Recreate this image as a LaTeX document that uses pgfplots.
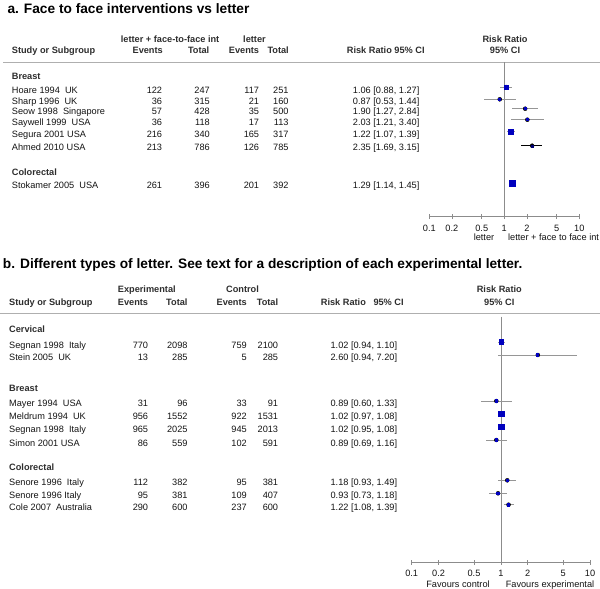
\documentclass[border=0pt]{standalone}
\usepackage{pgfplots}
\pgfplotsset{compat=1.18}
\usepackage{pgfplotstable}
\usepackage{fontspec}
\setmainfont{Liberation Sans}

\definecolor{sqblue}{RGB}{0,0,190}
\definecolor{cigray}{RGB}{150,150,150}
\definecolor{axgray}{RGB}{140,140,140}
\definecolor{rulegray}{RGB}{175,175,175}
\definecolor{hdr}{RGB}{45,45,45}
\definecolor{txt}{RGB}{20,20,20}

% risk ratio, CI, row position (px from top), square side
\pgfplotstableread{
rr lo hi y s
1.06 0.88 1.27 87.0 4.0
0.87 0.53 1.44 99.3 2.4
1.90 1.27 2.84 108.7 2.4
2.03 1.21 3.40 119.7 2.4
1.22 1.07 1.39 131.7 5.3
1.29 1.14 1.45 183.3 6.0
}\tabA
\pgfplotstableread{
rr lo hi y s
2.35 1.69 3.15 145.7 2.0
}\tabAhmed
\pgfplotstableread{
rr lo hi y s
1.02 0.94 1.10 342.3 4.7
2.60 0.94 7.20 355.0 2.2
0.89 0.60 1.33 401.0 2.2
1.02 0.97 1.08 414.3 5.3
1.02 0.95 1.08 427.3 5.3
0.89 0.69 1.16 440.0 2.2
1.18 0.93 1.49 480.3 2.5
0.93 0.73 1.18 493.3 2.5
1.22 1.08 1.39 504.7 2.8
}\tabB

\newcommand\bodyfont{\fontsize{9.2}{11}\selectfont}
\tikzset{
  t/.style={inner sep=0pt, font=\bodyfont, text=txt},
  h/.style={inner sep=0pt, font=\bodyfont\bfseries, text=hdr},
  ttl/.style={inner sep=0pt, font=\fontsize{13.7}{15}\selectfont\bfseries, text=black},
}

% row: y, study, events1, total1, events2, total2, ratio
\newcommand\rowA[7]{%
  \node[t, anchor=base west] at (11.7,#1+3.3) {#2};
  \node[t, anchor=base east] at (162.3,#1+3.3) {#3};
  \node[t, anchor=base east] at (210,#1+3.3) {#4};
  \node[t, anchor=base east] at (259.3,#1+3.3) {#5};
  \node[t, anchor=base east] at (288.7,#1+3.3) {#6};
  \node[t, anchor=base west] at (352.7,#1+3.3) {#7};
}
\newcommand\rowB[7]{%
  \node[t, anchor=base west] at (9,#1+3.3) {#2};
  \node[t, anchor=base east] at (148.3,#1+3.3) {#3};
  \node[t, anchor=base east] at (187.7,#1+3.3) {#4};
  \node[t, anchor=base east] at (247,#1+3.3) {#5};
  \node[t, anchor=base east] at (278.3,#1+3.3) {#6};
  \node[t, anchor=base east] at (397.3,#1+3.3) {#7};
}

\begin{document}
\begin{tikzpicture}

% ---------- panel a ----------
\begin{scope}[x=1pt, y=-1pt]
\node[ttl, anchor=base west] at (7.3,13.4) {a. Face to face interventions vs letter};
\node[h, anchor=base west] at (120.7,42) {letter + face-to-face int};
\node[h, anchor=base west] at (243,42) {letter};
\node[h, anchor=base] at (505,42) {Risk Ratio};
\node[h, anchor=base west] at (11.7,53.6) {Study or Subgroup};
\node[h, anchor=base east] at (163,53.6) {Events};
\node[h, anchor=base east] at (209.5,53.6) {Total};
\node[h, anchor=base east] at (259.3,53.6) {Events};
\node[h, anchor=base east] at (289,53.6) {Total};
\node[h, anchor=base west] at (346.7,53.6) {Risk Ratio 95\% CI};
\node[h, anchor=base] at (505,53.6) {95\% CI};
\draw[rulegray, line width=0.7pt] (3,62) -- (600,62);

\node[h, anchor=base west] at (11.7,79.3) {Breast};
\rowA{89.7}{Hoare 1994~~UK}{122}{247}{117}{251}{1.06 [0.88, 1.27]}
\rowA{101.3}{Sharp 1996~~UK}{36}{315}{21}{160}{0.87 [0.53, 1.44]}
\rowA{111}{Seow 1998~~Singapore}{57}{428}{35}{500}{1.90 [1.27, 2.84]}
\rowA{122}{Saywell 1999~~USA}{36}{118}{17}{113}{2.03 [1.21, 3.40]}
\rowA{134.3}{Segura 2001 USA}{216}{340}{165}{317}{1.22 [1.07, 1.39]}
\rowA{147.3}{Ahmed 2010 USA}{213}{786}{126}{785}{2.35 [1.69, 3.15]}
\node[h, anchor=base west] at (11.7,175.3) {Colorectal};
\rowA{185.3}{Stokamer 2005~~USA}{261}{396}{201}{392}{1.29 [1.14, 1.45]}
\node[t, anchor=base] at (484,240) {letter};
\node[t, anchor=base west] at (508,240) {letter + face to face int};

% ---------- panel b ----------
\node[ttl, anchor=base west] at (2.7,268.9) {b. Different types of letter. See text for a description of each experimental letter.};
\node[h, anchor=base west] at (117.7,292.3) {Experimental};
\node[h, anchor=base west] at (226,292.3) {Control};
\node[h, anchor=base] at (499.3,292.3) {Risk Ratio};
\node[h, anchor=base west] at (9,305.3) {Study or Subgroup};
\node[h, anchor=base east] at (148.3,305.3) {Events};
\node[h, anchor=base east] at (187.7,305.3) {Total};
\node[h, anchor=base east] at (247,305.3) {Events};
\node[h, anchor=base east] at (278.3,305.3) {Total};
\node[h, anchor=base west] at (320.7,305.3) {Risk Ratio};
\node[h, anchor=base west] at (373.3,305.3) {95\% CI};
\node[h, anchor=base] at (499.3,305.3) {95\% CI};
\draw[rulegray, line width=0.7pt] (0,313.3) -- (600,313.3);

\node[h, anchor=base west] at (9,332.6) {Cervical};
\rowB{344.7}{Segnan 1998~~Italy}{770}{2098}{759}{2100}{1.02 [0.94, 1.10]}
\rowB{357.3}{Stein 2005~~UK}{13}{285}{5}{285}{2.60 [0.94, 7.20]}
\node[h, anchor=base west] at (9,391) {Breast};
\rowB{403}{Mayer 1994~~USA}{31}{96}{33}{91}{0.89 [0.60, 1.33]}
\rowB{416}{Meldrum 1994~~UK}{956}{1552}{922}{1531}{1.02 [0.97, 1.08]}
\rowB{429.3}{Segnan 1998~~Italy}{965}{2025}{945}{2013}{1.02 [0.95, 1.08]}
\rowB{442.7}{Simon 2001 USA}{86}{559}{102}{591}{0.89 [0.69, 1.16]}
\node[h, anchor=base west] at (9,470) {Colorectal};
\rowB{482.3}{Senore 1996~~Italy}{112}{382}{95}{381}{1.18 [0.93, 1.49]}
\rowB{495.3}{Senore 1996 Italy}{95}{381}{109}{407}{0.93 [0.73, 1.18]}
\rowB{507}{Cole 2007~~Australia}{290}{600}{237}{600}{1.22 [1.08, 1.39]}
\node[t, anchor=base] at (458,587.3) {Favours control};
\node[t, anchor=base] at (550,587.3) {Favours experimental};
\end{scope}

\begin{axis}[at={(429.3pt,-216.7pt)}, anchor=south west,
  scale only axis, width=150pt, height=154.7pt, clip=false,
  xmode=log, xmin=0.1, xmax=10, ymin=-216.7, ymax=-62,
  axis x line*=bottom, axis y line=none,
  axis line style={axgray, line width=0.6pt},
  xtick={0.1,0.2,0.5,1,2,5,10}, xticklabels={0.1,0.2,0.5,1,2,5,10},
  minor xtick={}, tick align=center, major tick length=5pt,
  tick style={axgray, line width=0.5pt},
  xticklabel style={font=\bodyfont, text=txt, yshift=-2pt}]
  \addplot[axgray, line width=0.6pt] coordinates {(1,-62) (1,-216.7)};
  \addplot[only marks, mark=none,
    error bars/x dir=both, error bars/x explicit, error bars/error mark=none,
    error bars/error bar style={cigray, line width=0.5pt}]
    table[x=rr, y expr=-\thisrow{y},
    x error plus expr=\thisrow{hi}-\thisrow{rr},
    x error minus expr=\thisrow{rr}-\thisrow{lo}] {\tabA};
  \addplot[only marks, mark=none,
    error bars/x dir=both, error bars/x explicit, error bars/error mark=none,
    error bars/error bar style={black, line width=1pt}]
    table[x=rr, y expr=-\thisrow{y},
    x error plus expr=\thisrow{hi}-\thisrow{rr},
    x error minus expr=\thisrow{rr}-\thisrow{lo}] {\tabAhmed};
  \addplot[scatter, only marks, mark=square*,
    mark options={draw=sqblue, fill=sqblue, line width=0pt},
    scatter/use mapped color={draw=sqblue, fill=sqblue},
    visualization depends on={\thisrow{s}/2 \as \ms},
    scatter/@pre marker code/.append style={/tikz/mark size=\ms}]
    table[x=rr, y expr=-\thisrow{y}] {\tabA};
  \addplot[only marks, mark=square*, mark size=1pt,
    mark options={draw=sqblue!60!black, fill=sqblue!60!black}]
    table[x=rr, y expr=-\thisrow{y}] {\tabAhmed};
\end{axis}

\begin{axis}[at={(411.7pt,-562.3pt)}, anchor=south west,
  scale only axis, width=178.3pt, height=245.6pt, clip=false,
  xmode=log, xmin=0.1, xmax=10, ymin=-562.3, ymax=-316.7,
  axis x line*=bottom, axis y line=none,
  axis line style={axgray, line width=0.6pt},
  xtick={0.1,0.2,0.5,1,2,5,10}, xticklabels={0.1,0.2,0.5,1,2,5,10},
  minor xtick={}, tick align=center, major tick length=5pt,
  tick style={axgray, line width=0.5pt},
  xticklabel style={font=\bodyfont, text=txt, yshift=-2pt}]
  \addplot[axgray, line width=0.6pt] coordinates {(1,-316.7) (1,-562.3)};
  \addplot[only marks, mark=none,
    error bars/x dir=both, error bars/x explicit, error bars/error mark=none,
    error bars/error bar style={cigray, line width=0.5pt}]
    table[x=rr, y expr=-\thisrow{y},
    x error plus expr=\thisrow{hi}-\thisrow{rr},
    x error minus expr=\thisrow{rr}-\thisrow{lo}] {\tabB};
  \addplot[scatter, only marks, mark=square*,
    mark options={draw=sqblue, fill=sqblue, line width=0pt},
    scatter/use mapped color={draw=sqblue, fill=sqblue},
    visualization depends on={\thisrow{s}/2 \as \ms},
    scatter/@pre marker code/.append style={/tikz/mark size=\ms}]
    table[x=rr, y expr=-\thisrow{y}] {\tabB};
\end{axis}

\pgfresetboundingbox
\useasboundingbox (0pt,0pt) rectangle (600pt,-589pt);
\end{tikzpicture}
\end{document}
